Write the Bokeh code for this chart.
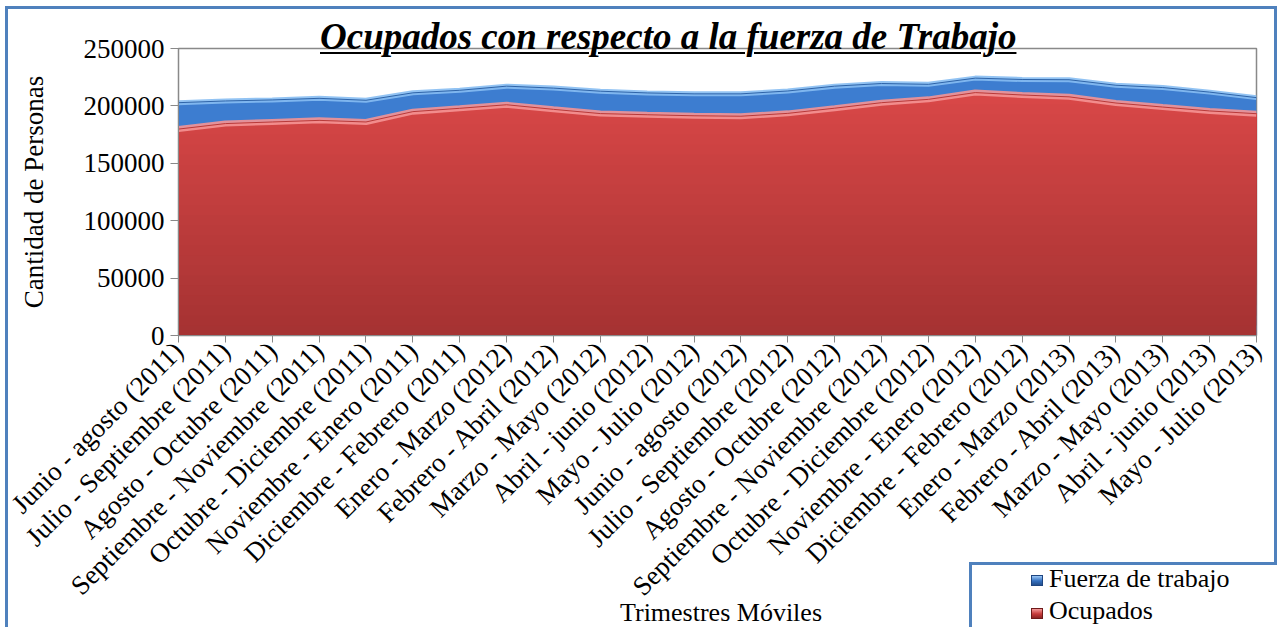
import math
import numpy as np
from bokeh.plotting import figure
from bokeh.models import Range1d, FixedTicker, NumeralTickFormatter, GridBox, Div
from bokeh.embed import file_html
from bokeh.resources import INLINE

categorias = [
    "Junio - agosto (2011)", "Julio - Septiembre (2011)", "Agosto - Octubre (2011)",
    "Septiembre - Noviembre (2011)", "Octubre - Diciembre (2011)", "Noviembre - Enero (2011)",
    "Diciembre - Febrero (2011)", "Enero - Marzo (2012)", "Febrero - Abril (2012)",
    "Marzo - Mayo (2012)", "Abril - junio (2012)", "Mayo - Julio (2012)",
    "Junio - agosto (2012)", "Julio - Septiembre (2012)", "Agosto - Octubre (2012)",
    "Septiembre - Noviembre (2012)", "Octubre - Diciembre (2012)", "Noviembre - Enero (2012)",
    "Diciembre - Febrero (2012)", "Enero - Marzo (2013)", "Febrero - Abril (2013)",
    "Marzo - Mayo (2013)", "Abril - junio (2013)", "Mayo - Julio (2013)",
]
fuerza_trabajo = [202800, 204300, 205200, 206600, 204900, 211400, 213600, 217200,
                  215500, 212800, 211300, 210500, 210500, 213000, 217200, 219500,
                  218800, 224200, 223000, 222800, 218000, 216000, 212000, 207200]
ocupados = [179800, 184600, 186000, 187400, 186000, 195000, 197900, 201000,
            197000, 193300, 192300, 191400, 191000, 193500, 198000, 202800,
            205700, 211600, 209500, 207900, 202500, 199000, 195600, 193200]
y_ticks = [0, 50000, 100000, 150000, 200000, 250000]
series_names = ["Fuerza de trabajo", "Ocupados"]
titulo = "Ocupados con respecto a la fuerza de Trabajo"
eje_x = "Trimestres Móviles"
eje_y = "Cantidad de Personas"

FONT = "Liberation Serif"
BLUE = "#3d7dd0"
W, H = 1272, 622

x = np.arange(len(categorias))
fz = np.array(fuerza_trabajo, dtype=float)
oc = np.array(ocupados, dtype=float)

# ---------------- main chart ----------------
p = figure(width=W, height=H, output_backend="svg", toolbar_location=None,
           x_range=Range1d(0, len(categorias) - 1), y_range=Range1d(0, 250000),
           min_border_left=178, min_border_right=16, min_border_top=48,
           min_border_bottom=287, background_fill_color="white",
           border_fill_color="white")

# Fuerza de trabajo (blue)
p.varea(x=x, y1=0, y2=fz, fill_color=BLUE)
p.line(x=x, y=fz, line_color="#86bcf2", line_width=5, line_alpha=0.9)
p.line(x=x, y=fz, line_color="#2f64a8", line_width=1)

# Ocupados (red) with vertical gradient built from stacked layers
p.varea(x=x, y1=0, y2=oc, fill_color="#a63333")
c0 = np.array([0xa6, 0x33, 0x33])
c1 = np.array([0xd8, 0x47, 0x47])
nb = 24
for k in range(1, nb):
    b = 210000 * k / nb
    t = k / (nb - 1)
    c = (c0 + (c1 - c0) * t).astype(int)
    p.varea(x=x, y1=np.minimum(oc, b), y2=oc, fill_color="#%02x%02x%02x" % tuple(c))
p.line(x=x, y=oc, line_color="#f59393", line_width=6, line_alpha=0.9)
p.line(x=x, y=oc, line_color="#b73a3a", line_width=1)

p.xgrid.visible = False
p.ygrid.visible = False
p.outline_line_color = "#898989"
p.outline_line_width = 1.5

p.yaxis.ticker = FixedTicker(ticks=y_ticks)
p.yaxis.formatter = NumeralTickFormatter(format="0")
p.yaxis.axis_label = eje_y
p.yaxis.axis_label_text_font = FONT
p.yaxis.axis_label_text_font_size = "27px"
p.yaxis.axis_label_text_font_style = "normal"
p.yaxis.axis_label_text_color = "black"
p.yaxis.axis_label_standoff = 32
p.yaxis.major_label_text_font = FONT
p.yaxis.major_label_text_font_size = "27px"
p.yaxis.major_label_text_color = "black"
p.yaxis.major_label_standoff = 6
p.yaxis.axis_line_color = "#898989"
p.yaxis.major_tick_line_color = "#898989"
p.yaxis.major_tick_out = 8
p.yaxis.major_tick_in = 0
p.yaxis.minor_tick_line_color = None

p.xaxis.ticker = FixedTicker(ticks=list(x))
p.xaxis.major_label_overrides = {int(i): c for i, c in zip(x, categorias)}
p.xaxis.major_label_orientation = math.pi / 4
p.xaxis.major_label_text_font = FONT
p.xaxis.major_label_text_font_size = "27px"
p.xaxis.major_label_text_color = "black"
p.xaxis.major_label_standoff = 4
p.xaxis.axis_line_color = "#898989"
p.xaxis.major_tick_line_color = "#898989"
p.xaxis.major_tick_out = 7
p.xaxis.major_tick_in = 0
p.xaxis.minor_tick_line_color = None

# ---------------- overlay: chart border, title, axis title, legend ----------------
ff = "font-family:'Liberation Serif','Times New Roman',serif;color:#000;white-space:nowrap;"
html = f"""
<div style="position:relative;width:{W}px;height:{H}px;overflow:hidden;pointer-events:none;">
  <div style="position:absolute;left:0px;top:1px;width:{W}px;height:800px;
       border:3px solid #4f81bd;box-sizing:border-box;"></div>
  <div style="position:absolute;left:315px;top:13px;{ff}font-size:37px;line-height:37px;
       font-weight:bold;font-style:italic;text-decoration:underline;
       text-decoration-thickness:2px;text-underline-offset:3px;">{titulo}</div>
  <div style="position:absolute;left:516px;top:595px;width:400px;text-align:center;{ff}
       font-size:26px;line-height:26px;">{eje_x}</div>
  <div style="position:absolute;left:964px;top:557px;width:500px;height:300px;
       border:3px solid #4f81bd;box-sizing:border-box;background:#fff;"></div>
  <div style="position:absolute;left:1026px;top:570px;width:12px;height:11px;
       background:linear-gradient(#9cc8f6,#3470c0 55%,#244f8c);border:1px solid #1f4580;"></div>
  <div style="position:absolute;left:1044px;top:561px;{ff}font-size:26px;line-height:26px;">{series_names[0]}</div>
  <div style="position:absolute;left:1026px;top:603px;width:12px;height:11px;
       background:linear-gradient(#f49a9a,#c63a3a 55%,#8c2424);border:1px solid #6e1a1a;"></div>
  <div style="position:absolute;left:1044px;top:593px;{ff}font-size:26px;line-height:26px;">{series_names[1]}</div>
</div>
"""
overlay = Div(text=html, width=W, height=H)

layout = GridBox(children=[(p, 0, 0), (overlay, 0, 0)])
open("out.html", "w").write(file_html(layout, INLINE))
